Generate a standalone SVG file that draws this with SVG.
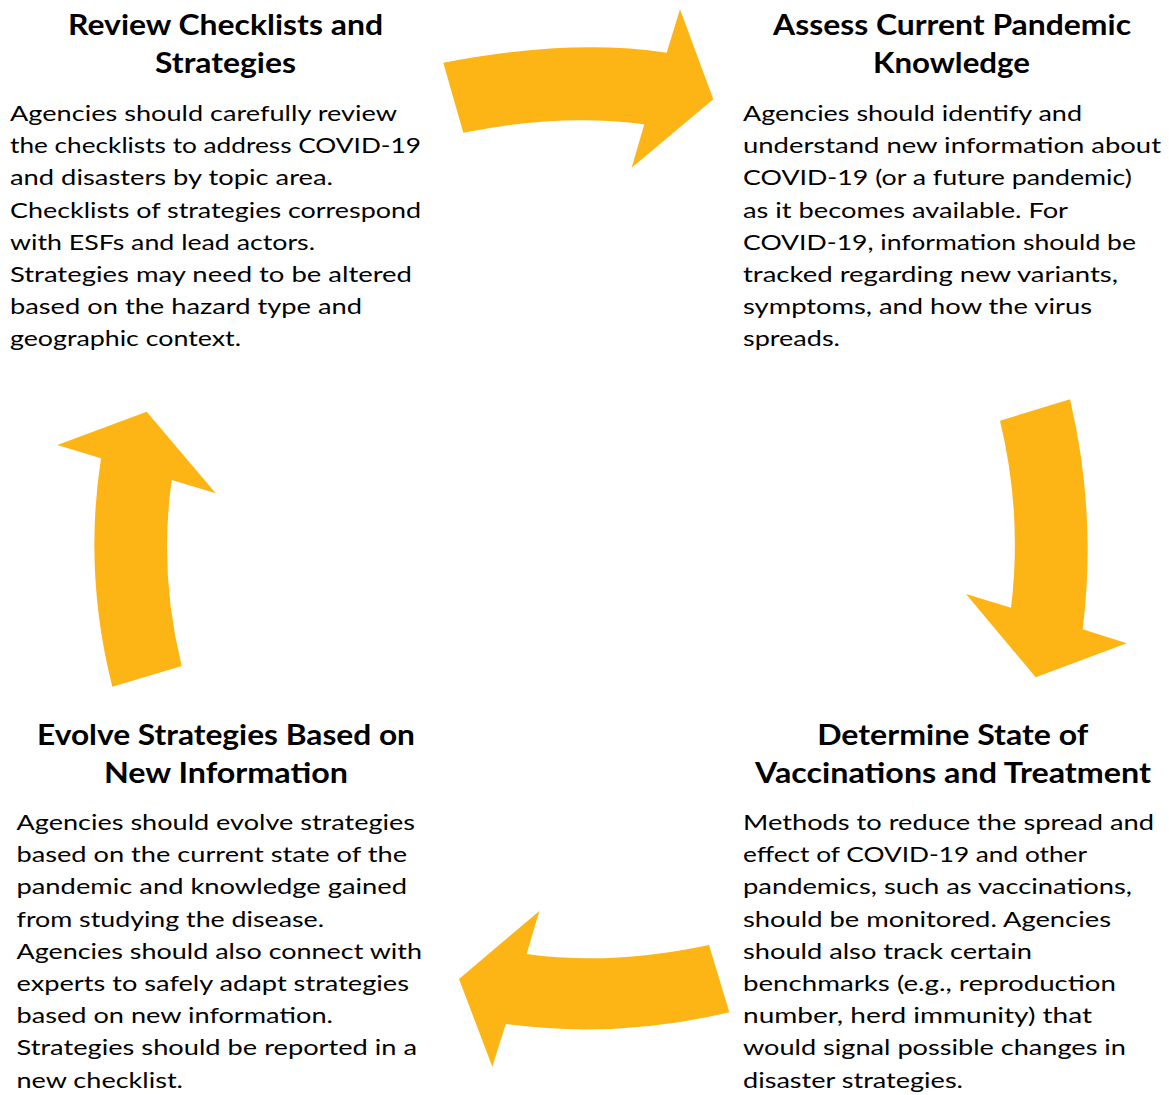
<svg xmlns="http://www.w3.org/2000/svg" width="1169" height="1095" viewBox="0 0 1169 1095">
  <style>
    .bg { fill: #ffffff; }
    .arrow { fill: #FDB515; }
    .title { font-family: Lato, "Open Sans", "Liberation Sans", sans-serif; font-weight: 700; font-size: 28px; fill: #000000; text-anchor: middle; }
    .body { font-family: Lato, "Open Sans", "Liberation Sans", sans-serif; font-weight: 400; font-size: 21px; fill: #000000; }
  </style>
  <rect class="bg" x="0" y="0" width="1169" height="1095"/>

  <!-- curved cycle arrows -->
  <g id="connectors">
    <path id="arrow-top" class="arrow" d="M443.3,62.7 Q570,38 666.7,52.7 L680,9.3 L713.3,99.3 L631.7,167.7 L644.3,124.3 Q560,113 463.3,132.7 Z"/>
    <path id="arrow-right" class="arrow" d="M1000,420.7 L1070,399.3 Q1097,514 1082.7,629.3 L1126.7,643.3 L1035.7,677.3 L966,594 L1011,607.7 Q1022.5,514 1000,420.7 Z"/>
    <path id="arrow-bottom" class="arrow" d="M709,945 L729.3,1012.3 Q617,1039 505.7,1024 L492.3,1066.7 L459,979 L539.3,911 L526.7,954 Q610,966 709,945 Z"/>
    <path id="arrow-left" class="arrow" d="M112.3,686.7 L181.7,666 Q158.7,573 171.7,480 L215.7,493.3 L146.7,411.7 L57.3,445 L101,458.3 Q83.4,572.5 112.3,686.7 Z"/>
  </g>

  <!-- step 1 -->
  <g id="node-review">
    <text class="title" x="225.5" y="35" textLength="315" lengthAdjust="spacingAndGlyphs">Review Checklists and</text>
    <text class="title" x="225.5" y="72.5" textLength="141" lengthAdjust="spacingAndGlyphs">Strategies</text>
    <text class="body" x="10" y="121" textLength="387" lengthAdjust="spacingAndGlyphs">Agencies should carefully review</text>
    <text class="body" x="10" y="153.2" textLength="411" lengthAdjust="spacingAndGlyphs">the checklists to address COVID-19</text>
    <text class="body" x="10" y="185.3" textLength="323" lengthAdjust="spacingAndGlyphs">and disasters by topic area.</text>
    <text class="body" x="10" y="217.5" textLength="411" lengthAdjust="spacingAndGlyphs">Checklists of strategies correspond</text>
    <text class="body" x="10" y="249.6" textLength="305" lengthAdjust="spacingAndGlyphs">with ESFs and lead actors.</text>
    <text class="body" x="10" y="281.8" textLength="402" lengthAdjust="spacingAndGlyphs">Strategies may need to be altered</text>
    <text class="body" x="10" y="313.9" textLength="352" lengthAdjust="spacingAndGlyphs">based on the hazard type and</text>
    <text class="body" x="10" y="346.1" textLength="231" lengthAdjust="spacingAndGlyphs">geographic context.</text>
  </g>

  <!-- step 2 -->
  <g id="node-assess">
    <text class="title" x="952" y="35" textLength="358" lengthAdjust="spacingAndGlyphs">Assess Current Pandemic</text>
    <text class="title" x="951.5" y="72.5" textLength="157" lengthAdjust="spacingAndGlyphs">Knowledge</text>
    <text class="body" x="743" y="121" textLength="339" lengthAdjust="spacingAndGlyphs">Agencies should identify and</text>
    <text class="body" x="743" y="153.2" textLength="418" lengthAdjust="spacingAndGlyphs">understand new information about</text>
    <text class="body" x="743" y="185.3" textLength="389" lengthAdjust="spacingAndGlyphs">COVID-19 (or a future pandemic)</text>
    <text class="body" x="743" y="217.5" textLength="325" lengthAdjust="spacingAndGlyphs">as it becomes available. For</text>
    <text class="body" x="743" y="249.6" textLength="393" lengthAdjust="spacingAndGlyphs">COVID-19, information should be</text>
    <text class="body" x="743" y="281.8" textLength="375" lengthAdjust="spacingAndGlyphs">tracked regarding new variants,</text>
    <text class="body" x="743" y="313.9" textLength="349" lengthAdjust="spacingAndGlyphs">symptoms, and how the virus</text>
    <text class="body" x="743" y="346.1" textLength="97" lengthAdjust="spacingAndGlyphs">spreads.</text>
  </g>

  <!-- step 3 -->
  <g id="node-determine">
    <text class="title" x="952.7" y="745" textLength="271" lengthAdjust="spacingAndGlyphs">Determine State of</text>
    <text class="title" x="953" y="782.5" textLength="396" lengthAdjust="spacingAndGlyphs">Vaccinations and Treatment</text>
    <text class="body" x="743" y="830" textLength="411" lengthAdjust="spacingAndGlyphs">Methods to reduce the spread and</text>
    <text class="body" x="743" y="862.2" textLength="344" lengthAdjust="spacingAndGlyphs">effect of COVID-19 and other</text>
    <text class="body" x="743" y="894.4" textLength="389" lengthAdjust="spacingAndGlyphs">pandemics, such as vaccinations,</text>
    <text class="body" x="743" y="926.6" textLength="368" lengthAdjust="spacingAndGlyphs">should be monitored. Agencies</text>
    <text class="body" x="743" y="958.8" textLength="289" lengthAdjust="spacingAndGlyphs">should also track certain</text>
    <text class="body" x="743" y="991" textLength="373" lengthAdjust="spacingAndGlyphs">benchmarks (e.g., reproduction</text>
    <text class="body" x="743" y="1023.2" textLength="349" lengthAdjust="spacingAndGlyphs">number, herd immunity) that</text>
    <text class="body" x="743" y="1055.4" textLength="383" lengthAdjust="spacingAndGlyphs">would signal possible changes in</text>
    <text class="body" x="743" y="1087.6" textLength="220" lengthAdjust="spacingAndGlyphs">disaster strategies.</text>
  </g>

  <!-- step 4 -->
  <g id="node-evolve">
    <text class="title" x="226" y="745" textLength="378" lengthAdjust="spacingAndGlyphs">Evolve Strategies Based on</text>
    <text class="title" x="226" y="782.5" textLength="244" lengthAdjust="spacingAndGlyphs">New Information</text>
    <text class="body" x="16.5" y="830" textLength="398.5" lengthAdjust="spacingAndGlyphs">Agencies should evolve strategies</text>
    <text class="body" x="16.5" y="862.2" textLength="390.5" lengthAdjust="spacingAndGlyphs">based on the current state of the</text>
    <text class="body" x="16.5" y="894.4" textLength="390.5" lengthAdjust="spacingAndGlyphs">pandemic and knowledge gained</text>
    <text class="body" x="16.5" y="926.6" textLength="307.5" lengthAdjust="spacingAndGlyphs">from studying the disease.</text>
    <text class="body" x="16.5" y="958.8" textLength="405.5" lengthAdjust="spacingAndGlyphs">Agencies should also connect with</text>
    <text class="body" x="16.5" y="991" textLength="392.5" lengthAdjust="spacingAndGlyphs">experts to safely adapt strategies</text>
    <text class="body" x="16.5" y="1023.2" textLength="316.5" lengthAdjust="spacingAndGlyphs">based on new information.</text>
    <text class="body" x="16.5" y="1055.4" textLength="400.5" lengthAdjust="spacingAndGlyphs">Strategies should be reported in a</text>
    <text class="body" x="16.5" y="1087.6" textLength="166.5" lengthAdjust="spacingAndGlyphs">new checklist.</text>
  </g>
</svg>
